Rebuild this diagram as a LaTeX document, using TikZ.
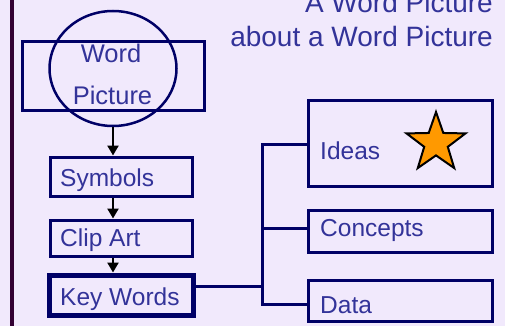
\documentclass[tikz,border=0pt]{standalone}
\usepackage{fontspec}
\setmainfont{Liberation Sans}
\usetikzlibrary{shapes.geometric,arrows.meta}
\definecolor{bgc}{RGB}{241,233,252}
\definecolor{barc}{RGB}{51,0,51}
\definecolor{txtc}{RGB}{51,51,153}
\definecolor{edgec}{RGB}{0,0,102}
\definecolor{starc}{RGB}{255,153,0}
\tikzset{
  box/.style={draw=edgec,line width=3pt,minimum width=142pt,inner sep=0pt},
  lbl/.style={text=txtc,inner sep=0pt,font=\fontsize{24.5}{29}\selectfont},
  ttl/.style={text=txtc,inner sep=0pt,font=\fontsize{28}{33}\selectfont},
  arr/.style={draw=black,line width=2.5pt,-{Triangle[length=10pt,width=11pt]}},
  conn/.style={draw=edgec,line width=3pt}
}
\begin{document}
\begin{tikzpicture}[x=1pt,y=-1pt]
\useasboundingbox (0,0) rectangle (505,326);
\fill[bgc] (0,0) rectangle (505,326);
\fill[barc] (10,0) rectangle (14,326);
% title
\node[ttl,anchor=base east] (t1) at (493,13) {A Word Picture};
\node[ttl,anchor=base east] (t2) at (493,47) {about a Word Picture};
% word picture
\node[box,minimum width=182pt,minimum height=68pt] (wpr) at (113,76) {};
\node[draw=edgec,line width=2.5pt,ellipse,minimum width=127pt,minimum height=115pt,inner sep=0pt] (wpe) at (113,68.5) {};
\node[lbl,anchor=base,font=\fontsize{25.5}{30}\selectfont] (w1) at (111,63) {Word};
\node[lbl,anchor=base,font=\fontsize{25.5}{30}\selectfont] (w2) at (112.5,104) {Picture};
% left column
\node[box,minimum height=39pt] (sym) at (121,176.5) {};
\node[lbl,anchor=base west] (symt) at (60,186) {Symbols};
\node[box,minimum height=36pt] (clip) at (121,238) {};
\node[lbl,anchor=base west] (clipt) at (60,246) {Clip Art};
\node[box,line width=5pt,minimum width=144pt,minimum height=40pt] (kw) at (121,295) {};
\node[lbl,anchor=base west] (kwt) at (60,305) {Key Words};
% right column
\node[box,minimum width=184pt,minimum height=85pt] (ideas) at (400,143.5) {};
\node[lbl,anchor=base west] (ideast) at (320,159) {Ideas};
\node[star,star points=5,star point ratio=2.5,draw=black,line width=2pt,fill=starc,minimum size=62pt,inner sep=0pt] (st) at (436,143) {};
\node[box,minimum width=184pt,minimum height=42pt] (conc) at (400,231) {};
\node[lbl,anchor=base west] (conct) at (320,236) {Concepts};
\node[box,minimum width=184pt,minimum height=41pt] (data) at (400,300.5) {};
\node[lbl,anchor=base west] (datat) at (320,313) {Data};
% arrows
\draw[arr] (wpe.south) -- (wpe.south |- sym.north);
\draw[arr] (wpe.south |- sym.south) -- (wpe.south |- clip.north);
\draw[arr] (wpe.south |- clip.south) -- (wpe.south |- kw.north);
% connectors
\coordinate (kwo) at (193,286);
\coordinate (ja) at (262,144);
\coordinate (jb) at (262,228);
\coordinate (jc) at (262,304);
\draw[conn] (kwo) -- (kwo -| ja);
\draw[conn] (ideas.west |- ja) -- (ja) -- (jc) -- (data.west |- jc);
\draw[conn] (jb) -- (conc.west |- jb);
\end{tikzpicture}
\end{document}
